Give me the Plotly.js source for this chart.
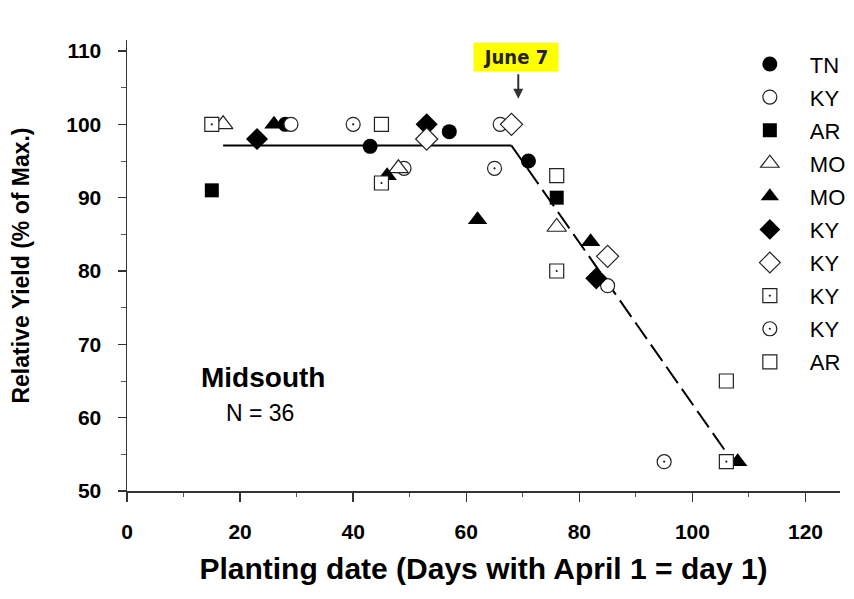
<!DOCTYPE html>
<html>
<head>
<meta charset="utf-8">
<script src="https://cdn.plot.ly/plotly-3.0.1.min.js"></script>
<style>html,body{margin:0;padding:0;background:#fff;}#chart{width:854px;height:599px;}</style>
</head>
<body>
<div id="chart"></div>
<script>
// ---- data ----
const tnX = [28, 43, 57, 71];            const tnY = [100, 97, 99, 95];
const ky1X = [29, 49, 66, 85];           const ky1Y = [100, 94, 100, 78];
const ar1X = [15, 76];                   const ar1Y = [91, 90];
const mo1X = [17, 48, 76];               const mo1Y = [100, 94, 86];
const mo2X = [26, 46, 62, 82, 108];      const mo2Y = [100, 93, 87, 84, 54];
const ky2X = [23, 53, 83];               const ky2Y = [98, 100, 79];
const ky3X = [53, 68, 85];               const ky3Y = [98, 100, 82];
const ky4X = [15, 45, 76, 106];          const ky4Y = [100, 92, 80, 54];
const ky5X = [40, 65, 95];               const ky5Y = [100, 94, 54];
const ar2X = [45, 76, 106];              const ar2Y = [100, 93, 65];
const plateauX = [17, 68];               const plateauY = [97.1, 97.1];
const declineX = [68, 106.5];            const declineY = [97.1, 54.7];
const xTicks = [0, 20, 40, 60, 80, 100, 120];
const yTicks = [50, 60, 70, 80, 90, 100, 110];

const FONT = 'Liberation Sans, Arial, sans-serif';
const BLK = '#000000';

function series(name, x, y, symbol, filled, size) {
  return {
    type: 'scatter', mode: 'markers', name: name, x: x, y: y,
    legendgroup: name + symbol + (filled ? 'f' : 'o'),
    marker: {
      symbol: symbol, size: size || 14,
      color: filled ? BLK : '#ffffff',
      line: {color: filled ? BLK : '#222222', width: filled ? 0 : 1.2}
    },
    cliponaxis: false
  };
}

const traces = [
  {type: 'scatter', mode: 'lines', x: plateauX, y: plateauY, showlegend: false,
   line: {color: BLK, width: 2}, hoverinfo: 'skip'},
  {type: 'scatter', mode: 'lines', x: declineX, y: declineY, showlegend: false,
   line: {color: BLK, width: 2, dash: '20px,7px'}, hoverinfo: 'skip'},
  series('TN', tnX, tnY, 'circle', true, 15),
  series('KY', ky1X, ky1Y, 'circle', false, 14),
  series('AR', ar1X, ar1Y, 'square', true, 14),
  series('MO', mo1X, mo1Y, 'triangle-up', false, 17),
  series('MO', mo2X, mo2Y, 'triangle-up', true, 17),
  series('KY', ky2X, ky2Y, 'diamond', true, 17),
  series('KY', ky3X, ky3Y, 'diamond', false, 17),
  series('KY', ky4X, ky4Y, 'square-dot', false, 14),
  series('KY', ky5X, ky5Y, 'circle-dot', false, 14),
  series('AR', ar2X, ar2Y, 'square', false, 14)
];

const layout = {
  width: 854, height: 599,
  paper_bgcolor: '#ffffff', plot_bgcolor: '#ffffff',
  margin: {l: 127, r: 14, t: 40, b: 108, autoexpand: false},
  font: {family: FONT, color: BLK},
  showlegend: true,
  legend: {
    x: 0.8455, y: 0.993, xanchor: 'left', yanchor: 'top',
    bgcolor: 'rgba(0,0,0,0)', borderwidth: 0,
    font: {family: FONT, size: 22, color: BLK},
    itemwidth: 70, traceorder: 'grouped', tracegroupgap: 1.5,
    maxheight: 1
  },
  xaxis: {
    range: [0, 126.1], tickvals: xTicks, ticktext: xTicks.map(String),
    showgrid: false, zeroline: false, showline: true, linecolor: '#333', linewidth: 1.5,
    ticks: 'outside', ticklen: 9, tickwidth: 1.5, tickcolor: '#333',
    minor: {dtick: 10, tick0: 0, ticks: 'outside', ticklen: 4, tickwidth: 1, tickcolor: '#555', showgrid: false},
    tickfont: {family: FONT, size: 21, color: BLK, weight: 'bold'},
    ticklabelstandoff: 12,
    title: {text: 'Planting date (Days with April 1 = day 1)', standoff: 16,
            font: {family: FONT, size: 30, color: BLK, weight: 'bold'}}
  },
  yaxis: {
    range: [50, 111.5], tickvals: yTicks, ticktext: yTicks.map(String),
    showgrid: false, zeroline: false, showline: true, linecolor: '#333', linewidth: 1.5,
    ticks: 'outside', ticklen: 8, tickwidth: 1.5, tickcolor: '#333',
    minor: {dtick: 5, tick0: 0, ticks: 'outside', ticklen: 5, tickwidth: 1, tickcolor: '#555', showgrid: false},
    tickfont: {family: FONT, size: 21, color: BLK, weight: 'bold'},
    ticklabelstandoff: 12,
    title: {text: 'Relative Yield (% of Max.)', standoff: 30,
            font: {family: FONT, size: 23, color: BLK, weight: 'bold'}}
  },
  annotations: [
    {x: 68.85, y: 109.14, xref: 'x', yref: 'y', text: '<b>June 7</b>', showarrow: false,
     bgcolor: '#ffff00', width: 84, height: 28, borderpad: 0,
     font: {family: 'Liberation Sans Narrow, Arial Narrow, DejaVu Sans Condensed, ' + FONT, size: 20, color: '#222'}},
    {x: 69.2, y: 103.5, xref: 'x', yref: 'y', text: '', showarrow: true,
     ax: 0, ay: -26, arrowhead: 2, arrowsize: 1, arrowwidth: 2, arrowcolor: '#333'},
    {x: 24.1, y: 65.5, xref: 'x', yref: 'y', text: '<b>Midsouth</b>', showarrow: false,
     font: {family: FONT, size: 28, color: BLK}},
    {x: 23.6, y: 60.7, xref: 'x', yref: 'y', text: 'N = 36', showarrow: false,
     font: {family: FONT, size: 23, color: BLK}}
  ]
};

Plotly.newPlot('chart', traces, layout, {displayModeBar: false, staticPlot: true});
</script>
</body>
</html>
